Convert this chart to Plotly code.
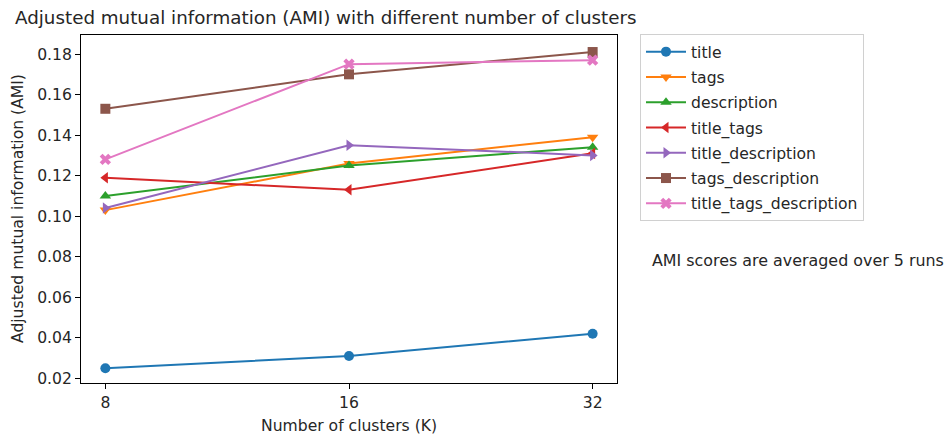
import plotly.graph_objects as go

clusters = ["8", "16", "32"]
series_names = ["title", "tags", "description", "title_tags",
                "title_description", "tags_description", "title_tags_description"]
title_vals = [0.025, 0.031, 0.042]
tags_vals = [0.103, 0.126, 0.139]
description_vals = [0.110, 0.125, 0.134]
title_tags_vals = [0.119, 0.113, 0.131]
title_description_vals = [0.104, 0.135, 0.130]
tags_description_vals = [0.153, 0.170, 0.181]
title_tags_description_vals = [0.128, 0.175, 0.177]

all_vals = [title_vals, tags_vals, description_vals, title_tags_vals,
            title_description_vals, tags_description_vals, title_tags_description_vals]
colors = ["#1f77b4", "#ff7f0e", "#2ca02c", "#d62728", "#9467bd", "#8c564b", "#e377c2"]
symbols = ["circle", "triangle-down", "triangle-up", "triangle-left",
           "triangle-right", "square", "x"]
y_ticks = [0.02, 0.04, 0.06, 0.08, 0.10, 0.12, 0.14, 0.16, 0.18]

FONT = "DejaVu Sans"
TXT = "#262626"
FS = 15.6

fig = go.Figure()
for i, (name, vals) in enumerate(zip(series_names, all_vals)):
    fig.add_trace(go.Scatter(
        x=clusters, y=vals, name=name, mode="lines+markers",
        legendgroup=name,
        line=dict(color=colors[i], width=2),
        marker=dict(symbol=symbols[i], size=10, color=colors[i],
                    line=dict(width=0)),
    ))

fig.update_layout(
    width=947, height=437,
    margin=dict(l=81, r=330, t=35, b=54),
    paper_bgcolor="white", plot_bgcolor="white",
    font=dict(family=FONT, size=FS, color=TXT),
    showlegend=True,
    title=dict(text="Adjusted mutual information (AMI) with different number of clusters",
               x=15/947, xanchor="left", xref="container",
               y=1-18/437, yanchor="middle", yref="container",
               font=dict(family=FONT, size=18.3, color=TXT)),
    legend=dict(x=(640-81)/536, xanchor="left", y=(383-34)/348, yanchor="top",
                bordercolor="#d0d0d0", borderwidth=1, bgcolor="white",
                tracegroupgap=2, font=dict(family=FONT, size=FS, color=TXT),
                itemwidth=40),
    xaxis=dict(type="category", range=[-0.1, 2.1], showline=True, linecolor="black",
               linewidth=1, mirror=True, ticks="outside", ticklen=5, tickcolor="black",
               showgrid=False, zeroline=False,
               tickfont=dict(family=FONT, size=FS, color=TXT)),
    yaxis=dict(range=[0.0177, 0.1894], tickvals=y_ticks,
               ticktext=[f"{v:.2f}" for v in y_ticks],
               showline=True, linecolor="black", linewidth=1, mirror=True,
               ticks="outside", ticklen=5, tickcolor="black",
               showgrid=False, zeroline=False,
               tickfont=dict(family=FONT, size=FS, color=TXT)),
    annotations=[
        dict(text="Number of clusters (K)", xref="paper", yref="paper",
             x=0.5, y=-(426-383)/348, xanchor="center", yanchor="middle",
             showarrow=False, font=dict(family=FONT, size=FS, color=TXT)),
        dict(text="Adjusted mutual information (AMI)", xref="paper", yref="paper",
             x=(18-81)/536, y=0.5, xanchor="center", yanchor="middle", textangle=-90,
             showarrow=False, font=dict(family=FONT, size=FS, color=TXT)),
        dict(text="AMI scores are averaged over 5 runs", xref="paper", yref="paper",
             x=(650-81)/536, y=(383-260)/348, xanchor="left", yanchor="middle",
             showarrow=False, font=dict(family=FONT, size=15.9, color=TXT)),
    ],
)

fig.write_html("out.html", config={"displayModeBar": False},
               post_script="document.body.style.margin='0';document.body.style.padding='0';")
